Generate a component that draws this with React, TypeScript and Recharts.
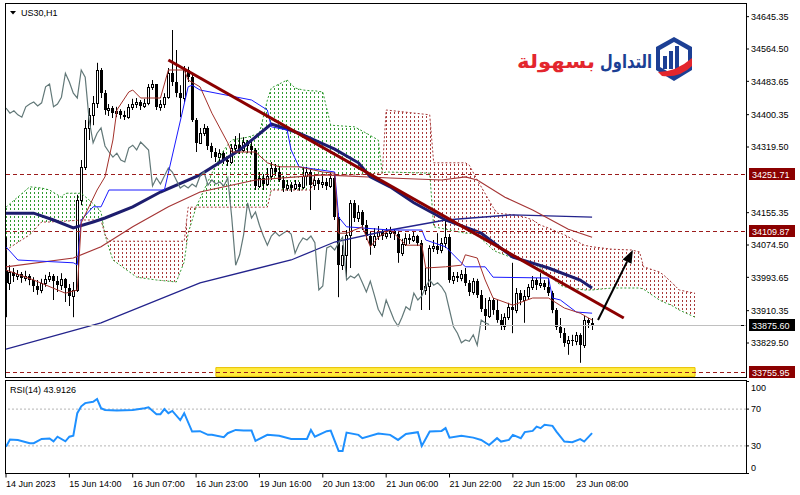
import React from "react";
import {
  Area,
  Bar,
  ComposedChart,
  Line,
  ReferenceArea,
  ReferenceLine,
  XAxis,
  YAxis,
} from "recharts";

const FONT = "'Liberation Sans', Arial, sans-serif";

// H1 candles, bar 0 = first visible bar (14 Jun 2023)
const firstOpen = 34012;
const closes = [
  33980, 34007, 33997, 34002, 33992, 33997, 33987, 33972, 33962, 33980,
  33990, 33997, 33984, 33974, 33990, 33967, 33947, 33962, 34187, 34270,
  34367, 34400, 34430, 34512, 34454, 34412, 34417, 34404, 34410, 34400,
  34394, 34420, 34427, 34432, 34422, 34430, 34470, 34477, 34420, 34427,
  34444, 34504, 34482, 34454, 34442, 34512, 34494, 34387, 34330, 34354,
  34367, 34322, 34307, 34294, 34304, 34287, 34282, 34317, 34324, 34312,
  34332, 34322, 34312, 34222, 34242, 34227, 34247, 34267, 34257, 34237,
  34217, 34224, 34217, 34227, 34220, 34247, 34257, 34224, 34237, 34227,
  34232, 34222, 34242, 34144, 34024, 34050, 34100, 34180, 34142, 34157,
  34124, 34097, 34074, 34097, 34107, 34097, 34104, 34110, 34102, 34054,
  34077, 34092, 34087, 34097, 34080, 33962, 33972, 34067, 34072, 34062,
  34080, 34094, 33987, 33997, 33992, 34002, 33980, 33957, 33984, 33950,
  33914, 33897, 33937, 33912, 33887, 33872, 33894, 33920, 33912, 33954,
  33937, 33947, 33970, 33987, 33974, 33980, 33970, 33954, 33912, 33870,
  33854, 33830, 33837, 33834, 33850, 33824, 33887, 33880, 33875.6,
];
const highs = [
  34094, 34024, 34017, 34012, 34007, 34010, 34002, 33994, 33987, 33990,
  34000, 34007, 34002, 33997, 34004, 33992, 33977, 33982, 34200, 34287,
  34387, 34417, 34447, 34530, 34517, 34462, 34427, 34422, 34420, 34414,
  34410, 34427, 34440, 34442, 34437, 34440, 34477, 34487, 34474, 34437,
  34454, 34517, 34612, 34562, 34474, 34522, 34520, 34500, 34392, 34367,
  34377, 34372, 34330, 34317, 34314, 34310, 34297, 34327, 34347, 34354,
  34344, 34337, 34332, 34317, 34257, 34252, 34267, 34282, 34277, 34272,
  34247, 34237, 34232, 34237, 34232, 34270, 34270, 34262, 34252, 34242,
  34247, 34242, 34254, 34250, 34154, 34074, 34112, 34187, 34187, 34174,
  34162, 34137, 34107, 34117, 34122, 34114, 34117, 34120, 34114, 34110,
  34090, 34104, 34102, 34107, 34100, 34087, 34017, 34074, 34087, 34104,
  34092, 34137, 34102, 34007, 34007, 34012, 34017, 33987, 33992, 33990,
  33962, 33942, 33944, 33942, 33937, 33902, 33904, 33930, 34030, 33967,
  33962, 33962, 33977, 33997, 33992, 34004, 33987, 33992, 33960, 33917,
  33892, 33867, 33847, 33850, 33857, 33854, 33897, 33892, 33892,
];
const lows = [
  33894, 33962, 33982, 33987, 33980, 33984, 33974, 33957, 33950, 33954,
  33970, 33982, 33937, 33957, 33962, 33932, 33922, 33894, 33957, 34174,
  34262, 34337, 34374, 34417, 34442, 34400, 34397, 34392, 34394, 34390,
  34387, 34390, 34412, 34417, 34412, 34417, 34424, 34462, 34412, 34410,
  34417, 34440, 34472, 34444, 34394, 34432, 34482, 34382, 34307, 34337,
  34347, 34312, 34292, 34282, 34280, 34277, 34272, 34277, 34307, 34302,
  34307, 34304, 34300, 34212, 34217, 34212, 34222, 34237, 34247, 34232,
  34207, 34210, 34207, 34212, 34210, 34214, 34224, 34162, 34212, 34212,
  34217, 34212, 34217, 34137, 33944, 34012, 33994, 34017, 34132, 34132,
  34112, 34087, 34050, 34067, 34087, 34087, 34090, 34092, 34087, 34030,
  34047, 34072, 34077, 34082, 34072, 33912, 33950, 33912, 34057, 34052,
  34054, 34067, 33980, 33977, 33982, 33984, 33972, 33947, 33950, 33942,
  33907, 33862, 33892, 33900, 33880, 33862, 33862, 33887, 33854, 33904,
  33924, 33880, 33937, 33962, 33962, 33967, 33962, 33947, 33904, 33862,
  33842, 33820, 33800, 33822, 33824, 33780, 33817, 33867, 33862,
];

// indicator lines, [bar, price]
const tenkan = [
  [0, 34012], [7, 33987], [15, 33954], [18, 33962], [19, 34130], [23, 34212], [25, 34245],
  [27, 34337], [28, 34412], [31, 34457], [32, 34462], [34, 34442], [39, 34442], [41, 34512],
  [45, 34512], [46, 34487], [49, 34470], [52, 34404], [56, 34330], [57, 34307], [63, 34307],
  [66, 34280], [69, 34270], [74, 34270], [80, 34257], [83, 34254], [84, 34104], [86, 34104],
  [90, 34120], [92, 34070], [94, 34094], [97, 34112], [99, 34094], [101, 34074], [105, 34074],
  [106, 34017], [111, 34020], [115, 34024], [116, 34050], [119, 34042], [121, 33987],
  [123, 33942], [128, 33924], [133, 33942], [137, 33942], [141, 33917], [145, 33904], [148, 33887],
];
const kijun = [
  [0, 34070], [3, 34037], [17, 34030], [18, 34025], [19, 34137], [22, 34170], [24, 34170],
  [26, 34212], [40, 34212], [46, 34470], [47, 34474], [49, 34462], [62, 34437], [66, 34412],
  [67, 34370], [71, 34362], [72, 34312], [74, 34270], [83, 34257], [84, 34144], [86, 34120],
  [97, 34112], [105, 34112], [106, 34087], [111, 34070], [116, 34020], [121, 34020],
  [123, 33994], [137, 33992], [138, 33942], [140, 33937], [144, 33907], [148, 33904],
];
const maFast = [
  [0, 34154], [7, 34154], [12, 34137], [17, 34117], [22, 34132], [25, 34142], [32, 34170],
  [39, 34207], [49, 34250], [59, 34312], [67, 34377], [74, 34354], [83, 34314], [89, 34280],
  [92, 34245], [97, 34220], [103, 34180], [111, 34137], [120, 34104], [128, 34044],
  [137, 34017], [145, 33987], [148, 33967],
];
const maSlow = [
  [0, 34020], [17, 34042], [24, 34070], [32, 34120], [41, 34170], [49, 34207], [63, 34237],
  [80, 34250], [97, 34242], [110, 34237], [116, 34245], [119, 34237], [126, 34194],
  [133, 34162], [142, 34114], [148, 34094],
];
const ma200 = [
  [0, 33814], [24, 33880], [49, 33980], [72, 34037], [83, 34082], [97, 34112], [111, 34137],
  [128, 34150], [148, 34144],
];

// ichimoku cloud, [bar, senkou A, senkou B]
const cloudGreen1 = [
  [0, 34169, 34062], [6, 34220, 34100], [9, 34217, 34132], [11, 34212, 34132], [14, 34194, 34134],
  [15, 34204, 34134], [19, 34204, 34137], [21, 34187, 34137], [23, 34169, 34137], [24, 34157, 34137],
  [25, 34100, 34100],
];
const cloudRed1 = [
  [25, 34100, 34100], [26, 34067, 34084], [27, 34037, 34084], [33, 33994, 34084], [38, 33987, 34084],
  [43, 33982, 34084], [45, 34032, 34084], [46, 34104, 34169], [48, 34169, 34169],
];
const cloudGreen2 = [
  [48, 34169, 34169], [50, 34212, 34169], [52, 34254, 34169], [55, 34312, 34169], [57, 34337, 34169],
  [61, 34344, 34169], [64, 34354, 34169], [66, 34437, 34169], [67, 34467, 34212], [71, 34487, 34212],
  [73, 34467, 34212], [75, 34462, 34212], [77, 34460, 34212], [78, 34460, 34250], [80, 34457, 34250],
  [82, 34374, 34250], [88, 34370, 34250], [91, 34354, 34252], [94, 34337, 34254], [95, 34254, 34254],
];
const cloudRed2 = [
  [95, 34254, 34254], [96, 34257, 34412], [107, 34254, 34400], [108, 34120, 34280], [116, 34104, 34280],
  [117, 34104, 34274], [119, 34100, 34237], [123, 34062, 34169], [124, 34057, 34154], [128, 34042, 34150],
  [131, 34037, 34144], [133, 34030, 34137], [135, 34017, 34124], [137, 34000, 34117], [140, 33974, 34104],
  [141, 33970, 34100], [146, 33962, 34074], [148, 33962, 34070], [153, 33967, 34064], [158, 33967, 34062],
  [160, 33967, 34057], [161, 33964, 34020], [165, 33937, 34007], [166, 33932, 34000], [168, 33924, 33982],
  [170, 33912, 33962], [174, 33894, 33954],
];

const rsiPts = [
  [0, 29], [1, 37], [3, 36.5], [6, 33], [7, 33], [9, 37.6], [11, 38], [12, 35], [13, 40], [15, 35],
  [16, 40], [17, 41], [18, 65.6], [19, 73], [20, 76.5], [22, 78], [23, 81], [24, 71], [25, 69],
  [28, 68.5], [32, 69], [35, 71], [36, 72], [38, 64.5], [39, 64.5], [40, 70], [41, 65.6], [42, 68],
  [44, 58], [45, 65.6], [47, 45.6], [49, 46], [51, 42], [52, 42], [55, 39.4], [56, 43.8], [58, 47.4],
  [60, 46.7], [62, 46.7], [63, 35.4], [66, 42], [69, 41], [72, 37.6], [76, 37.6], [77, 47.4], [78, 40],
  [81, 46], [82, 46.7], [84, 24.5], [85, 24.5], [86, 44.5], [89, 42], [90, 38.4], [94, 43.4], [97, 42],
  [99, 36.5], [101, 43], [104, 44.9], [105, 30], [107, 45.6], [110, 46.3], [111, 49.3], [112, 39],
  [115, 41], [118, 39], [120, 36.5], [122, 31], [124, 38.4], [125, 34.7], [127, 36.5], [128, 42],
  [130, 38.4], [131, 45], [133, 46.3], [134, 51], [135, 49.3], [136, 53], [138, 51.8], [139, 45.6],
  [141, 34.7], [143, 34], [145, 37.3], [146, 34.7], [148, 43.9126],
];

const timeTicks = [0, 16, 32, 48, 64, 80, 96, 112, 128, 144];
const timeLabels = [
  "14 Jun 2023", "15 Jun 14:00", "16 Jun 07:00", "16 Jun 23:00", "19 Jun 16:00",
  "20 Jun 13:00", "21 Jun 06:00", "21 Jun 22:00", "22 Jun 15:00", "23 Jun 08:00",
];
const priceTicks = [
  34645.35, 34564.5, 34483.65, 34400.35, 34319.5, 34155.35, 34074.5, 33993.65, 33910.35, 33829.5,
];
const levels = [34251.71, 34109.87, 33755.95];
const lastPrice = 33875.6;
const trendLine = [{ x: 41, y: 34537 }, { x: 156, y: 33892 }];
const arrowLine = [{ x: 149.5, y: 33887 }, { x: 158.3, y: 34062 }];
const zone = { x1: 53, x2: 174, lo: 33746, hi: 33768 };

const X_MAX = 186.87;
const P_MIN = 33744.5;
const P_MAX = 34677;

// one row per bar, future bars only carry the shifted cloud
const rows: Record<string, any>[] = [];
for (let i = 0; i <= 174; i++) rows.push({ i });
closes.forEach((c, i) => {
  const o = i === 0 ? firstOpen : closes[i - 1];
  rows[i].o = o;
  rows[i].c = c;
  rows[i].hl = [Math.min(lows[i], o, c), Math.max(highs[i], o, c)];
  if (i >= 26) rows[i - 26].chikou = c;
});
const put = (key: string, pts: number[][]) =>
  pts.forEach(([i, v]) => {
    rows[i][key] = v;
  });
put("tenkan", tenkan);
put("kijun", kijun);
put("maFast", maFast);
put("maSlow", maSlow);
put("ma200", ma200);
put("rsi", rsiPts);
const clouds: [string, number[][]][] = [
  ["g1", cloudGreen1],
  ["r1", cloudRed1],
  ["g2", cloudGreen2],
  ["r2", cloudRed2],
];
clouds.forEach(([key, pts]) =>
  pts.forEach(([i, a, b]) => {
    rows[i][key] = [Math.min(a, b), Math.max(a, b)];
    rows[i].spanA = a;
    rows[i].spanB = b;
  })
);

const Candle = (props: any) => {
  const { x, y, width, height, payload } = props;
  if (!payload || !payload.hl) return null;
  const [lo, hi] = payload.hl;
  const top = Math.min(y, y + height);
  const h = Math.abs(height);
  const cx = Math.round(x + width / 2);
  const span = hi - lo || 1;
  const yOf = (v: number) => top + ((hi - v) / span) * h;
  const yo = yOf(payload.o);
  const yc = yOf(payload.c);
  const bTop = Math.round(Math.min(yo, yc));
  const bBot = Math.round(Math.max(yo, yc));
  const bull = payload.c >= payload.o;
  return (
    <g>
      <line x1={cx + 0.5} x2={cx + 0.5} y1={top} y2={top + h} stroke="#000" strokeWidth={1} />
      {bull ? (
        <rect x={cx - 0.5} y={bTop + 0.5} width={2} height={Math.max(bBot - bTop, 1)} fill="#fff" stroke="#000" strokeWidth={1} />
      ) : (
        <rect x={cx - 1} y={bTop} width={3} height={Math.max(bBot - bTop, 1)} fill="#000" />
      )}
    </g>
  );
};

const levelShape = (text: string, bg: string, stroke: string, dash?: string) => (props: any) => {
  const { x1, x2, y1 } = props;
  const left = Math.min(x1, x2);
  const right = Math.max(x1, x2);
  const y = Math.round(y1) + 0.5;
  return (
    <g>
      <line x1={left} x2={right} y1={y} y2={y} stroke={stroke} strokeDasharray={dash} strokeWidth={1} />
      <line x1={right - 5} x2={right - 2} y1={y} y2={y} stroke={bg} />
      <rect x={right + 3} y={y - 6.5} width={46} height={12} fill={bg} />
      <text x={right + 6} y={y + 3.5} fontSize={9} fill="#fff" fontFamily={FONT}>
        {text}
      </text>
    </g>
  );
};

const arrowShape = (props: any) => {
  const { x1, y1, x2, y2 } = props;
  const a = Math.atan2(y2 - y1, x2 - x1);
  const len = 13;
  const w = 5;
  const bx = x2 - len * Math.cos(a);
  const by = y2 - len * Math.sin(a);
  const nx = -Math.sin(a) * w;
  const ny = Math.cos(a) * w;
  return (
    <g>
      <line x1={x1} y1={y1} x2={bx} y2={by} stroke="#000" strokeWidth={2} />
      <polygon points={`${x2},${y2} ${bx + nx},${by + ny} ${bx - nx},${by - ny}`} fill="#000" />
    </g>
  );
};

const TimeTick = ({ x, y, payload }: any) => (
  <text x={x} y={y + 7} fontSize={9} fontFamily={FONT} fill="#000">
    {timeLabels[timeTicks.indexOf(payload.value)]}
  </text>
);

const RsiTick = ({ x, y, payload }: any) => {
  const shift = payload.value === 100 ? 6 : payload.value === 0 ? -6 : 0;
  return (
    <text x={x} y={y + shift} dy="0.355em" fontSize={9} fontFamily={FONT} fill="#000">
      {payload.value}
    </text>
  );
};

const lineProps = { dot: false, activeDot: false, connectNulls: true, isAnimationActive: false, type: "linear" as const };

export default function App() {
  return (
    <div
      style={{
        position: "absolute",
        left: 0,
        top: 0,
        width: 800,
        height: 495,
        background: "#fff",
        overflow: "hidden",
        fontFamily: FONT,
      }}
    >
      <div style={{ position: "absolute", left: 0, top: 0 }}>
        <ComposedChart width={800} height={378} data={rows} margin={{ top: 4, right: 0, bottom: 1, left: 6 }}>
          <defs>
            <pattern id="dotG" patternUnits="userSpaceOnUse" x={6} y={0} width={4} height={4}>
              <rect x={0} y={0} width={1} height={2} fill="#2f9a2f" />
            </pattern>
            <pattern id="dotR" patternUnits="userSpaceOnUse" x={6} y={0} width={4} height={4}>
              <rect x={0} y={0} width={1} height={2} fill="#a83a3a" />
            </pattern>
          </defs>
          <XAxis dataKey="i" type="number" domain={[0, X_MAX]} allowDataOverflow hide />
          <YAxis
            orientation="right"
            width={54}
            domain={[P_MIN, P_MAX]}
            allowDataOverflow
            ticks={priceTicks}
            interval={0}
            tickFormatter={(v: number) => v.toFixed(2)}
            tick={{ fontSize: 9, fill: "#000", fontFamily: FONT }}
            tickSize={3}
            tickMargin={2}
            axisLine={false}
            tickLine={{ stroke: "#000" }}
          />
          <ReferenceArea x1={zone.x1} x2={zone.x2} y1={zone.lo} y2={zone.hi} fill="#ffec3d" fillOpacity={1} stroke="#e8c100" />
          <Area dataKey="g1" {...lineProps} stroke="none" fill="url(#dotG)" fillOpacity={1} />
          <Area dataKey="r1" {...lineProps} stroke="none" fill="url(#dotR)" fillOpacity={1} />
          <Area dataKey="g2" {...lineProps} stroke="none" fill="url(#dotG)" fillOpacity={1} />
          <Area dataKey="r2" {...lineProps} stroke="none" fill="url(#dotR)" fillOpacity={1} />
          <Line dataKey="spanA" {...lineProps} stroke="#2f9a2f" strokeWidth={1} strokeDasharray="2 2" />
          <Line dataKey="spanB" {...lineProps} stroke="#a83a3a" strokeWidth={1} strokeDasharray="2 2" />
          <Bar dataKey="hl" barSize={3} shape={Candle} isAnimationActive={false} />
          <Line dataKey="ma200" {...lineProps} stroke="#23238c" strokeWidth={1.3} />
          <Line dataKey="maSlow" {...lineProps} stroke="#a53535" strokeWidth={1.2} />
          <Line dataKey="maFast" {...lineProps} stroke="#1d1d6e" strokeWidth={3} />
          <Line dataKey="chikou" {...lineProps} stroke="#627878" strokeWidth={1.2} />
          <Line dataKey="kijun" {...lineProps} stroke="#1a1aff" strokeWidth={1} />
          <Line dataKey="tenkan" {...lineProps} stroke="#a3302a" strokeWidth={1} />
          {levels.map((p) => (
            <ReferenceLine key={p} y={p} shape={levelShape(p.toFixed(2), "#8b0000", "#9b1c1c", "4 3")} />
          ))}
          <ReferenceLine y={lastPrice} shape={levelShape(lastPrice.toFixed(2), "#000", "#c0c0c0")} />
          <ReferenceLine segment={trendLine} stroke="#8b0000" strokeWidth={3} />
          <ReferenceLine segment={arrowLine} shape={arrowShape} />
        </ComposedChart>
      </div>
      <div style={{ position: "absolute", left: 0, top: 378 }}>
        <ComposedChart width={800} height={117} data={rows} margin={{ top: 3.5, right: 0, bottom: 0, left: 6 }}>
          <XAxis
            dataKey="i"
            type="number"
            domain={[0, X_MAX]}
            allowDataOverflow
            ticks={timeTicks}
            interval={0}
            height={21.5}
            tick={<TimeTick />}
            tickSize={4}
            tickMargin={2}
            axisLine={false}
            tickLine={{ stroke: "#000" }}
          />
          <YAxis
            orientation="right"
            width={54}
            domain={[0, 100]}
            ticks={[0, 30, 70, 100]}
            interval={0}
            tick={<RsiTick />}
            tickSize={3}
            tickMargin={2}
            axisLine={false}
            tickLine={{ stroke: "#000" }}
          />
          <ReferenceLine y={70} stroke="#b4b4b4" strokeDasharray="2 2" />
          <ReferenceLine y={30} stroke="#b4b4b4" strokeDasharray="2 2" />
          <Line dataKey="rsi" {...lineProps} stroke="#1e90ff" strokeWidth={2} />
        </ComposedChart>
      </div>
      {/* panel frames */}
      <div style={{ position: "absolute", left: 5, top: 3, width: 742, height: 375, border: "1px solid #000", boxSizing: "border-box", pointerEvents: "none" }} />
      <div style={{ position: "absolute", left: 5, top: 380, width: 742, height: 94, border: "1px solid #000", boxSizing: "border-box", pointerEvents: "none" }} />
      <svg width={800} height={495} style={{ position: "absolute", left: 0, top: 0, pointerEvents: "none" }}>
        <polygon points="10,11 16,11 13,14.5" fill="#000" />
        <text x={21} y={16} fontSize={9} fontFamily={FONT} fill="#000">
          US30,H1
        </text>
        <text x={10} y={393} fontSize={9} fontFamily={FONT} fill="#000">
          RSI(14) 43.9126
        </text>
        <text x={600} y={68} fontSize={19} fontWeight="bold" fontFamily="'DejaVu Sans', sans-serif" fill="#1c3f94" textLength={52} lengthAdjust="spacingAndGlyphs">
          التداول
        </text>
        <text x={517} y={68} fontSize={19} fontWeight="bold" fontFamily="'DejaVu Sans', sans-serif" fill="#e3262d" textLength={78} lengthAdjust="spacingAndGlyphs">
          بسهولة
        </text>
        <polygon points="674,37 692,47 692,70 674,81 656,70 656,47" fill="#1c3f94" />
        <polygon points="674,42 688,50 688,67 674,75 660,67 660,50" fill="#fff" />
        <rect x={663} y={56} width={4} height={13} fill="#1c3f94" />
        <rect x={669} y={51} width={4} height={18} fill="#1c3f94" />
        <rect x={675} y={46} width={4} height={23} fill="#1c3f94" />
        <path d="M658,72 Q676,72 692,58 L692,66 Q680,78 662,76 Z" fill="#e3262d" />
      </svg>
    </div>
  );
}
